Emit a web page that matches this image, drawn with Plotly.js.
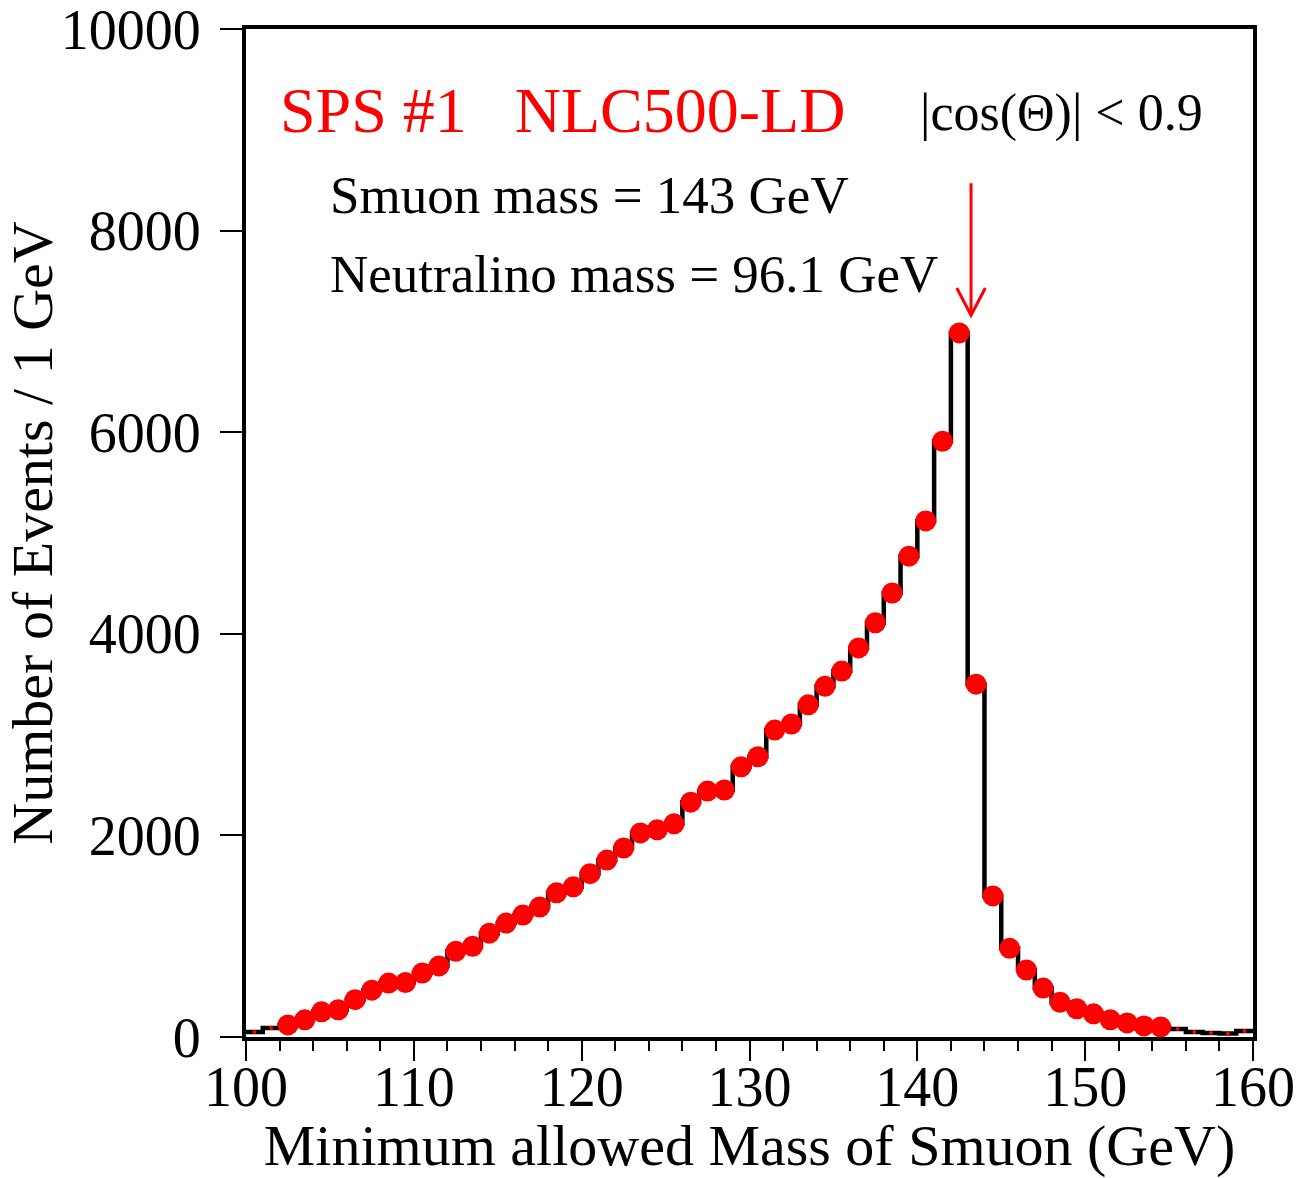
<!DOCTYPE html>
<html>
<head>
<meta charset="utf-8">
<script src="https://cdn.plot.ly/plotly-3.0.1.min.js"></script>
<style>html,body{margin:0;padding:0;background:#fff;}#chart{width:1308px;height:1178px;}</style>
</head>
<body>
<div id="chart"></div>
<script>
// Bin low edges (GeV), 1 GeV wide
const binLowEdges = [100,101,102,103,104,105,106,107,108,109,110,111,112,113,114,115,116,117,118,119,
  120,121,122,123,124,125,126,127,128,129,130,131,132,133,134,135,136,137,138,139,
  140,141,142,143,144,145,146,147,148,149,150,151,152,153,154,155,156,157,158,159];
// Number of events per bin
const eventCounts = [50,90,120,170,250,270,370,465,535,540,635,705,850,900,1030,1130,1210,1290,1430,1490,
  1620,1755,1875,2025,2055,2115,2330,2440,2450,2680,2780,3045,3105,3295,3480,3630,3860,4110,4405,4770,
  5120,5910,6985,3500,1400,880,665,485,345,280,230,170,140,110,100,80,50,40,35,60];
const binWidth = 1;
const xTickVals = [100,110,120,130,140,150,160];
const yTickVals = [0,2000,4000,6000,8000,10000];
const smuonMass = 143.2;
const arrowTop = 8470, arrowTip = 7160, arrowWingDx = 0.85, arrowWingDy = 270;

const serif = "Liberation Serif, Times New Roman, serif";

// step line through bin edges
const stepX = binLowEdges.concat([binLowEdges[binLowEdges.length-1] + binWidth]);
const stepY = eventCounts.concat([eventCounts[eventCounts.length-1]]);
const centers = binLowEdges.map(e => e + binWidth/2);
const markerSizes = eventCounts.map(v => v >= 95 ? 21 : 4);

const traces = [
  {x: stepX, y: stepY, type: 'scatter', mode: 'lines', line: {shape: 'hv', color: '#000', width: 4.5}, hoverinfo: 'skip', cliponaxis: false},
  {x: centers, y: eventCounts, type: 'scatter', mode: 'markers', marker: {color: '#ff0000', size: markerSizes, opacity: 1, line: {width: 0}}}
];

const layout = {
  width: 1308, height: 1178,
  margin: {l: 246, r: 55, t: 29, b: 141},
  paper_bgcolor: '#fff', plot_bgcolor: '#fff',
  showlegend: false,
  font: {family: serif, color: '#000'},
  xaxis: {
    range: [100, 160], tickvals: xTickVals, ticktext: xTickVals.map(String),
    ticks: 'outside', ticklen: 20, tickwidth: 2, tickcolor: '#000',
    minor: {dtick: 2, tick0: 100, ticks: 'outside', ticklen: 10, tickwidth: 2, tickcolor: '#000'},
    showline: true, linewidth: 4, linecolor: '#000', mirror: true,
    showgrid: false, zeroline: false,
    ticklabelstandoff: -22, ticklabeloverflow: 'allow',
    tickfont: {family: serif, size: 56, color: '#000'},
    title: {text: 'Minimum allowed Mass of Smuon (GeV)', font: {family: serif, size: 58, color: '#000'}, standoff: 0}
  },
  yaxis: {
    range: [0, 10000], tickvals: yTickVals, ticktext: yTickVals.map(String),
    ticks: 'outside', ticklen: 22, tickwidth: 2, tickcolor: '#000',
    showline: true, linewidth: 4, linecolor: '#000', mirror: true,
    showgrid: false, zeroline: false,
    ticklabelstandoff: 8, ticklabeloverflow: 'allow',
    tickfont: {family: serif, size: 56, color: '#000'},
    title: {text: 'Number of Events / 1 GeV', font: {family: serif, size: 58, color: '#000'}, standoff: 2}
  },
  annotations: [
    {xref: 'paper', yref: 'paper', x: 0.032, y: 0.9196, xanchor: 'left', yanchor: 'middle', showarrow: false,
     text: 'SPS #1&nbsp;&nbsp;&nbsp;NLC500-LD', font: {family: serif, size: 64, color: '#ff0000'}},
    {xref: 'paper', yref: 'paper', x: 0.667, y: 0.9167, xanchor: 'left', yanchor: 'middle', showarrow: false,
     text: '|cos(Θ)| &lt; 0.9', font: {family: serif, size: 52, color: '#000'}},
    {xref: 'paper', yref: 'paper', x: 0.0815, y: 0.835, xanchor: 'left', yanchor: 'middle', showarrow: false,
     text: 'Smuon mass = 143 GeV', font: {family: serif, size: 53, color: '#000'}},
    {xref: 'paper', yref: 'paper', x: 0.0815, y: 0.757, xanchor: 'left', yanchor: 'middle', showarrow: false,
     text: 'Neutralino mass = 96.1 GeV', font: {family: serif, size: 53, color: '#000'}}
  ],
  shapes: [
    {type: 'line', xref: 'x', yref: 'y', x0: smuonMass, x1: smuonMass, y0: arrowTop, y1: arrowTip, line: {color: '#ff0000', width: 3}},
    {type: 'path', xref: 'x', yref: 'y',
     path: 'M ' + (smuonMass - arrowWingDx) + ' ' + (arrowTip + arrowWingDy) + ' L ' + smuonMass + ' ' + arrowTip + ' L ' + (smuonMass + arrowWingDx) + ' ' + (arrowTip + arrowWingDy),
     line: {color: '#ff0000', width: 3}}
  ]
};

Plotly.newPlot('chart', traces, layout, {staticPlot: true, displayModeBar: false});
</script>
</body>
</html>
